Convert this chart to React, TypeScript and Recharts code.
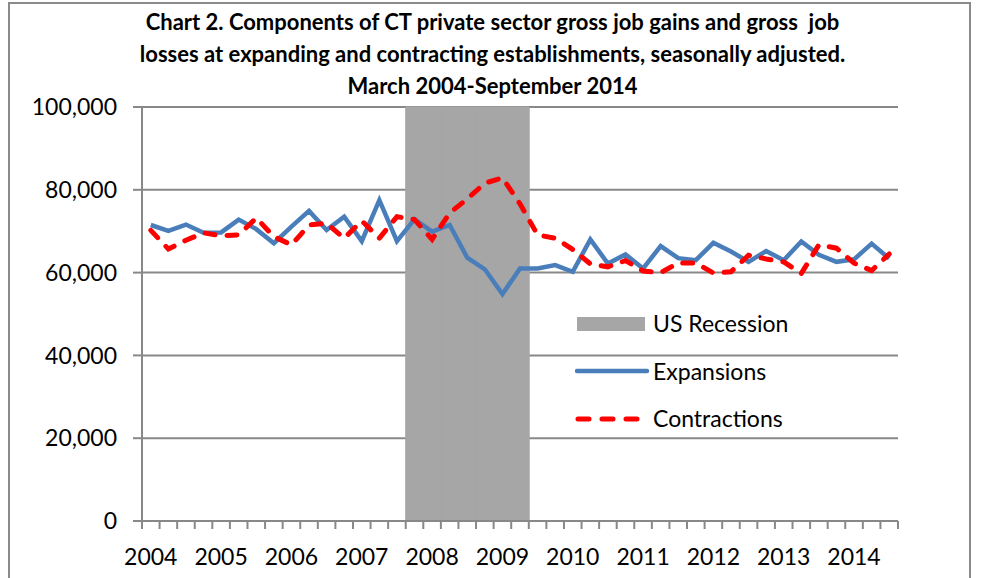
import React from 'react';
import { ComposedChart, Bar, Line, XAxis, YAxis, CartesianGrid, Legend } from 'recharts';

const years = ['2004', '2005', '2006', '2007', '2008', '2009', '2010', '2011', '2012', '2013', '2014'];
const quarterNames = ['Q1', 'Q2', 'Q3', 'Q4'];
// March 2004 - September 2014, 43 quarters
const quarters = years.flatMap((y) => quarterNames.map((q) => `${y} ${q}`)).slice(0, 43);

const recessionQuarters = ['2007 Q4', '2008 Q1', '2008 Q2', '2008 Q3', '2008 Q4', '2009 Q1', '2009 Q2'];

const expansions = [
  71500, 70100, 71600, 69600, 69700, 72800, 70500, 67100, 71100, 74900, 70300,
  73500, 67600, 77500, 67600, 72900, 69900, 71500, 63600, 60800, 54800, 61000,
  61000, 61800, 60200, 68000, 62200, 64400, 61000, 66400, 63500, 63000, 67200,
  65100, 62600, 65200, 63000, 67500, 64300, 62600, 63200, 67000, 63400,
];

const contractions = [
  70200, 65700, 67800, 69600, 68900, 69100, 73200, 68700, 66700, 71500, 71900,
  68300, 72500, 68300, 73500, 72800, 68000, 74400, 77800, 81600, 82900, 76600,
  69100, 68300, 65600, 62100, 61400, 62900, 60400, 60000, 62300, 62300, 59900,
  60200, 64200, 63300, 62600, 59800, 66700, 65900, 62300, 60500, 64500,
];

const yTicks = [0, 20000, 40000, 60000, 80000, 100000];

const data = quarters.map((q, i) => ({
  quarter: q,
  recession: recessionQuarters.includes(q) ? 100000 : null,
  expansions: expansions[i],
  contractions: contractions[i],
}));

const FONT = "Lato, 'Open Sans', sans-serif";
const GRID = '#888888';
const BLUE = '#4A7EBB';
const RED = '#FF0000';
const GRAY = '#A6A6A6';

const W = 981;
const H = 578;
const margin = { top: 107, right: 83, bottom: 17, left: 8 };
const Y_WIDTH = 134;
const plotW = W - margin.left - margin.right - Y_WIDTH;
const band = plotW / quarters.length;

function QuarterTick(props: any) {
  const { x, y, payload, index } = props;
  const half = band / 2;
  const label = payload.value.split(' ');
  return (
    <g>
      <line x1={x - half} y1={y} x2={x - half} y2={y + 8} stroke={GRID} strokeWidth={2} />
      {index === quarters.length - 1 && (
        <line x1={x + half} y1={y} x2={x + half} y2={y + 8} stroke={GRID} strokeWidth={2} />
      )}
      {label[1] === 'Q1' && (
        <text x={x} y={y + 35} textAnchor="middle" dominantBaseline="central" fontSize={23} fontFamily={FONT} fill="#000">
          {label[0]}
        </text>
      )}
    </g>
  );
}

function LegendBox() {
  const rows = [
    { name: 'US Recession', kind: 'bar' },
    { name: 'Expansions', kind: 'line' },
    { name: 'Contractions', kind: 'dash' },
  ];
  return (
    <div style={{ fontFamily: FONT, fontSize: 23, color: '#000' }}>
      {rows.map((r) => (
        <div key={r.name} style={{ display: 'flex', alignItems: 'center', height: 47.5 }}>
          <svg width={78} height={20} style={{ display: 'block' }}>
            {r.kind === 'bar' && <rect x={2} y={3} width={68} height={14} fill={GRAY} />}
            {r.kind === 'line' && (
              <line x1={2} y1={10} x2={72} y2={10} stroke={BLUE} strokeWidth={4.5} strokeLinecap="round" />
            )}
            {r.kind === 'dash' && (
              <line x1={3} y1={10} x2={70} y2={10} stroke={RED} strokeWidth={5} strokeLinecap="round" strokeDasharray="11 13" />
            )}
          </svg>
          <span style={{ lineHeight: 1 }}>{r.name}</span>
        </div>
      ))}
    </div>
  );
}

export default function App() {
  return (
    <div style={{ position: 'absolute', left: 0, top: 0, width: W, height: H, overflow: 'hidden', background: '#fff' }}>
      <div
        style={{
          position: 'absolute', left: 8, top: 2, width: 963, height: 640,
          border: '2px solid #8a8a8a', boxSizing: 'border-box',
        }}
      />
      <div
        style={{
          position: 'absolute', left: 0, top: 6, width: W, textAlign: 'center',
          fontFamily: FONT, fontWeight: 'bold', fontSize: 22, lineHeight: '32px',
          whiteSpace: 'pre', color: '#000', paddingLeft: 2,
        }}
      >
        {'Chart 2. Components of CT private sector gross job gains and gross  job\n'}
        {'losses at expanding and contracting establishments, seasonally adjusted.\n'}
        {'March 2004-September 2014'}
      </div>
      <div style={{ position: 'absolute', left: 0, top: 0 }}>
        <ComposedChart width={W} height={H} data={data} margin={margin} barCategoryGap={0} barGap={0}>
          <CartesianGrid vertical={false} stroke={GRID} strokeWidth={2} />
          <XAxis
            dataKey="quarter"
            interval={0}
            tickLine={false}
            tickSize={0}
            tickMargin={0}
            height={40}
            axisLine={{ stroke: GRID, strokeWidth: 2 }}
            tick={<QuarterTick />}
          />
          <YAxis
            width={Y_WIDTH}
            domain={[0, 100000]}
            ticks={yTicks}
            tickFormatter={(v: number) => v.toLocaleString('en-US')}
            tickSize={9}
            tickMargin={16}
            tickLine={{ stroke: GRID, strokeWidth: 2 }}
            axisLine={{ stroke: GRID, strokeWidth: 2 }}
            tick={{ fontSize: 23, fontFamily: FONT, fill: '#000' }}
          />
          <Bar
            dataKey="recession"
            name="US Recession"
            fill={GRAY}
            stroke={GRAY}
            strokeWidth={1}
            isAnimationActive={false}
          />
          <Line
            type="linear"
            dataKey="expansions"
            name="Expansions"
            stroke={BLUE}
            strokeWidth={4.5}
            dot={false}
            activeDot={false}
            isAnimationActive={false}
          />
          <Line
            type="linear"
            dataKey="contractions"
            name="Contractions"
            stroke={RED}
            strokeWidth={5}
            strokeDasharray="10 12"
            strokeLinecap="round"
            dot={false}
            activeDot={false}
            isAnimationActive={false}
          />
          <Legend
            layout="vertical"
            verticalAlign="middle"
            align="center"
            content={<LegendBox />}
            wrapperStyle={{ left: 575, top: 300, width: 280 }}
          />
        </ComposedChart>
      </div>
    </div>
  );
}
